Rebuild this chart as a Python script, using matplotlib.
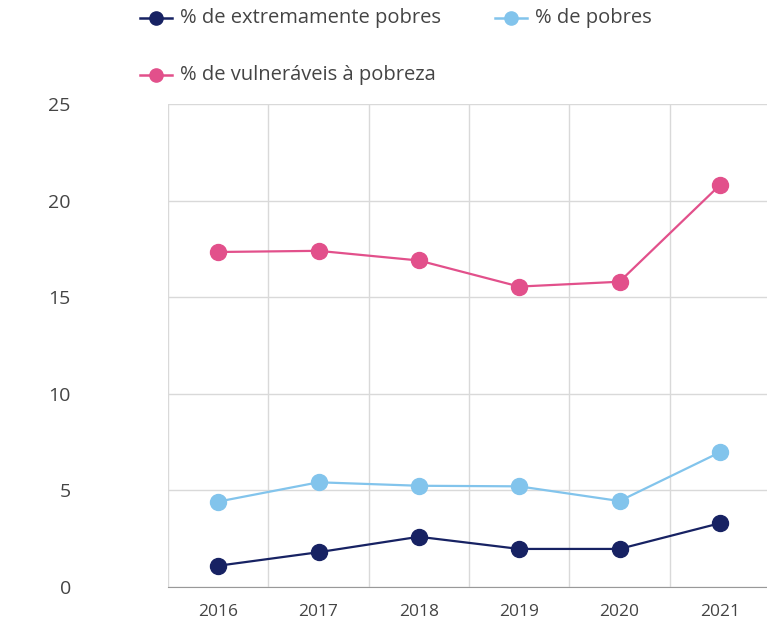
import matplotlib.pyplot as plt
from matplotlib.lines import Line2D

anos = ["2016", "2017", "2018", "2019", "2020", "2021"]
extremamente_pobres = [1.1, 1.8, 2.6, 1.97, 1.97, 3.3]
pobres = [4.42, 5.42, 5.24, 5.21, 4.45, 6.97]
vulneraveis = [17.34, 17.4, 16.9, 15.55, 15.8, 20.8]

series = [
    ("% de extremamente pobres", extremamente_pobres, "#172263"),
    ("% de pobres", pobres, "#82c4ec"),
    ("% de vulneráveis à pobreza", vulneraveis, "#e2508b"),
]

plt.rcParams["font.family"] = ["Open Sans", "DejaVu Sans"]

W, H = 767, 623
fig = plt.figure(figsize=(W / 100, H / 100), dpi=100)
ax = fig.add_axes([168 / W, (H - 587) / H, (770 - 168) / W, (587 - 104) / H])

x = list(range(len(anos)))
for nome, vals, cor in series:
    ax.plot(x, vals, color=cor, lw=1.6, marker="o", markersize=11.5, zorder=3)

ax.set_xlim(-0.5, len(anos) - 0.5)
ax.set_ylim(0, 25)
ax.set_yticks([0, 5, 10, 15, 20, 25])
ax.set_xticks(x)
ax.set_xticklabels(anos)

# grade vertical entre categorias
for b in [i - 0.5 for i in range(len(anos))]:
    ax.axvline(b, color="#d9d9d9", lw=1, zorder=1)
ax.grid(axis="y", color="#d9d9d9", lw=1, zorder=1)

for s in ["top", "right", "left"]:
    ax.spines[s].set_visible(False)
ax.spines["bottom"].set_color("#999999")
ax.tick_params(axis="both", length=0, colors="#444444")
ax.tick_params(axis="y", labelsize=14, pad=70)
ax.tick_params(axis="x", labelsize=12.5, pad=12)

# legenda manual
leg = [(140, 18, 0), (495, 18, 1), (140, 75, 2)]
for lx, ly, i in leg:
    nome, _, cor = series[i]
    yy = (H - ly) / H
    fig.add_artist(Line2D([lx / W, (lx + 32) / W], [yy, yy], color=cor, lw=1.8,
                          transform=fig.transFigure))
    fig.add_artist(Line2D([(lx + 16) / W], [yy], color=cor, marker="o", markersize=9.5,
                          transform=fig.transFigure))
    fig.text((lx + 40) / W, yy, nome, fontsize=14.5, color="#444444", va="center")

fig.savefig("out.png", dpi=100)
